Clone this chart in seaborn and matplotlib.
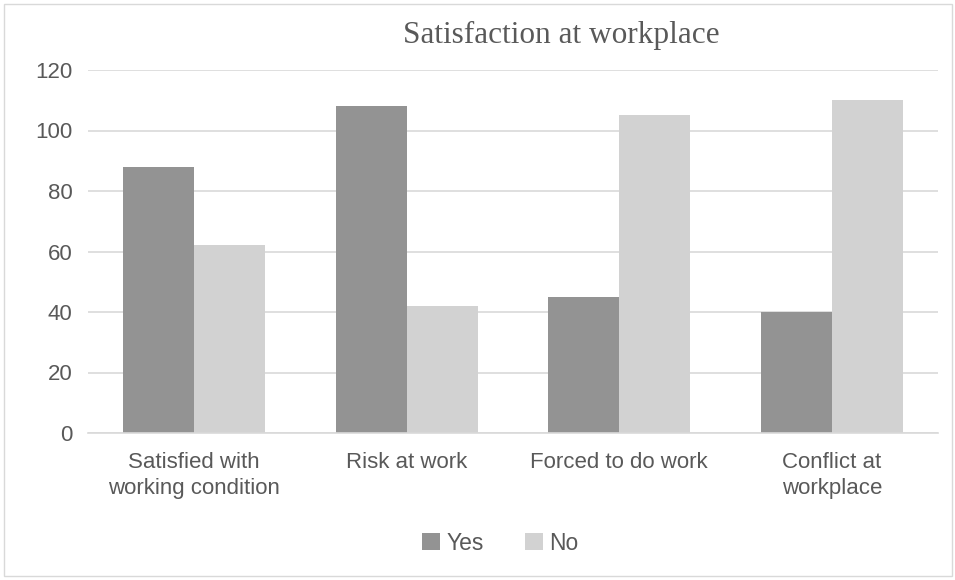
import matplotlib
matplotlib.use("Agg")
import matplotlib.pyplot as plt
import seaborn as sns
import pandas as pd
from matplotlib.patches import Rectangle

categories = ["Satisfied with\nworking condition", "Risk at work", "Forced to do work", "Conflict at\nworkplace"]
yes_values = [88, 108, 45, 40]
no_values = [62, 42, 105, 110]
series = ["Yes", "No"]
y_ticks = [0, 20, 40, 60, 80, 100, 120]

df = pd.DataFrame({
    "category": categories * 2,
    "value": yes_values + no_values,
    "series": ["Yes"] * len(categories) + ["No"] * len(categories),
})

sns.set_theme(style="white")
plt.rcParams["font.family"] = ["Liberation Sans", "DejaVu Sans"]

fig = plt.figure(figsize=(9.55, 5.8), dpi=100)
ax = fig.add_axes([88/955, 1 - 433/580, (938 - 88)/955, (433 - 70)/580])

sns.barplot(data=df, x="category", y="value", hue="series", hue_order=series,
            palette={"Yes": "#939393", "No": "#d2d2d2"}, width=0.667,
            saturation=1, ax=ax, legend=True, linewidth=0)

ax.set_ylim(0, 120)
ax.set_yticks(y_ticks)
ax.set_xlim(-0.5, len(categories) - 0.5)
ax.grid(axis="y", color="#d9d9d9", linewidth=1.2)
ax.set_axisbelow(True)
for s in ["top", "right", "left"]:
    ax.spines[s].set_visible(False)
ax.spines["bottom"].set_color("#d9d9d9")
ax.spines["bottom"].set_linewidth(1.2)
ax.set_xlabel("")
ax.set_ylabel("")
ax.tick_params(axis="both", length=0, labelsize=16, labelcolor="#595959")
ax.tick_params(axis="y", pad=11)
ax.tick_params(axis="x", pad=14)
for lbl in ax.get_xticklabels():
    lbl.set_linespacing(1.3)

fig.text(561/955, 1 - 35/580, "Satisfaction at workplace", ha="center", va="center",
         fontsize=22.5, color="#595959", family=["Liberation Serif", "DejaVu Serif"])

leg = ax.legend(loc="center", bbox_to_anchor=(500/955, 1 - 543/580), bbox_transform=fig.transFigure,
                ncol=2, frameon=False, fontsize=16.5, handlelength=0.8, handleheight=0.8,
                handletextpad=0.25, columnspacing=1.8)
for t in leg.get_texts():
    t.set_color("#595959")

fig.patches.append(Rectangle((4/955, 4/580), 948/955, 572/580, transform=fig.transFigure,
                             fill=False, edgecolor="#d9d9d9", linewidth=1))

fig.savefig("out.png", dpi=100)
